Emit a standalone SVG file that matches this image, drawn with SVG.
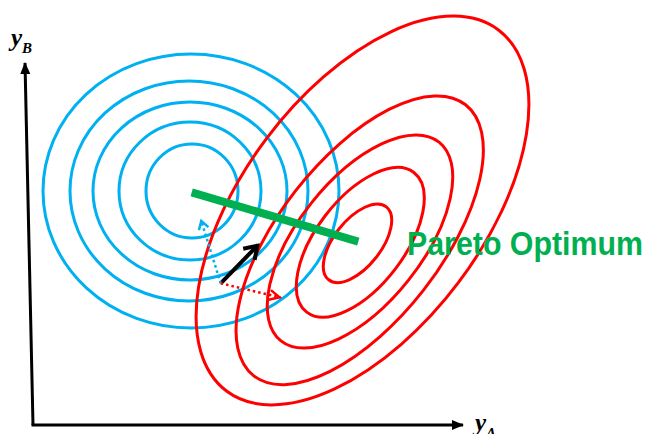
<svg xmlns="http://www.w3.org/2000/svg" width="650" height="434" viewBox="0 0 650 434">
<style>
.blue{fill:none;stroke:#00B0F0;stroke-width:3}
.red{fill:none;stroke:#FF0000;stroke-width:3}
.axis{fill:none;stroke:#000;stroke-width:3}
.lbl{font-family:"Liberation Serif",serif;font-style:italic;font-weight:bold;fill:#000}
</style>
<defs>
<marker id="tri" viewBox="0 0 12 10" refX="11" refY="5" markerWidth="12" markerHeight="10" markerUnits="userSpaceOnUse" orient="auto"><path d="M0,0 L12,5 L0,10 z" fill="#000"/></marker>
<marker id="chevK" viewBox="-16 -12 20 24" refX="0" refY="0" markerWidth="20" markerHeight="24" markerUnits="userSpaceOnUse" orient="auto"><path d="M-13,-8 L-1,0 L-13,8" fill="none" stroke="#000" stroke-width="4"/></marker>
<marker id="chevB" viewBox="-12 -8 14 16" refX="0" refY="0" markerWidth="14" markerHeight="16" markerUnits="userSpaceOnUse" orient="auto"><path d="M-9,-5 L-1,0 L-9,5" fill="none" stroke="#00B0F0" stroke-width="2.5"/></marker>
<marker id="chevR" viewBox="-14 -8 16 16" refX="0" refY="0" markerWidth="16" markerHeight="16" markerUnits="userSpaceOnUse" orient="auto"><path d="M-11,-5 L-1,0 L-11,5" fill="none" stroke="#FF0000" stroke-width="2.5"/></marker>
</defs>
<rect width="650" height="434" fill="#fff"/>
<g id="blue-contours">
<ellipse class="blue" cx="191" cy="191" rx="148" ry="137"/>
<ellipse class="blue" cx="189" cy="191" rx="119" ry="110"/>
<ellipse class="blue" cx="190" cy="191" rx="97" ry="89"/>
<ellipse class="blue" cx="190" cy="191" rx="71" ry="69"/>
<ellipse class="blue" cx="192" cy="191" rx="46" ry="47"/>
</g>
<g id="red-contours">
<ellipse class="red" cx="362.5" cy="210.5" rx="226" ry="120" transform="rotate(-53 362.5 210.5)"/>
<ellipse class="red" cx="359.7" cy="240.3" rx="172" ry="81" transform="rotate(-52 359.7 240.3)"/>
<ellipse class="red" cx="360" cy="241.5" rx="127" ry="62" transform="rotate(-51.5 360 241.5)"/>
<ellipse class="red" cx="360.3" cy="242.3" rx="88" ry="44" transform="rotate(-52.5 360.3 242.3)"/>
<ellipse class="red" cx="357.5" cy="243.3" rx="46.5" ry="23.4" transform="rotate(-51.7 357.5 243.3)"/>
</g>
<g id="pareto-line">
<line x1="191.7" y1="192.3" x2="358.3" y2="241.7" stroke="#00B050" stroke-width="8"/>
</g>
<g id="connectors">
<line class="axis" x1="33" y1="425" x2="25" y2="63" marker-end="url(#tri)"/>
<line class="axis" x1="31.5" y1="425" x2="463" y2="425" marker-end="url(#tri)"/>
<line x1="220.7" y1="283.3" x2="258" y2="245" stroke="#000" stroke-width="4" marker-end="url(#chevK)"/>
<line x1="220.7" y1="283.3" x2="201" y2="220" stroke="#00B0F0" stroke-width="2.5" stroke-dasharray="2.5 3" marker-end="url(#chevB)"/>
<line x1="220.7" y1="283.3" x2="280.5" y2="297.5" stroke="#FF0000" stroke-width="2.5" stroke-dasharray="2.5 3" marker-end="url(#chevR)"/>
</g>
<g id="labels">
<text x="407" y="255" font-family="'Liberation Sans',Arial,sans-serif" font-weight="bold" font-size="33" fill="#00B050" textLength="236" lengthAdjust="spacingAndGlyphs">Pareto Optimum</text>
<text class="lbl" x="11" y="46" font-size="25">y<tspan font-size="15" dy="7">B</tspan></text>
<text class="lbl" x="475" y="431" font-size="25">y<tspan font-size="15" dy="7">A</tspan></text>
</g>
</svg>
